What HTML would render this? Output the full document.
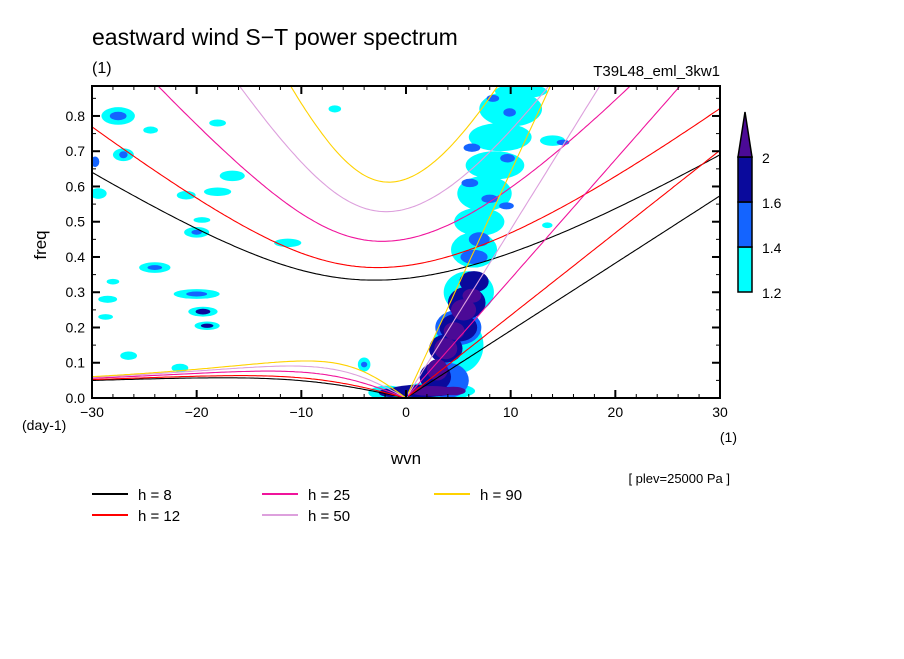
<!DOCTYPE html>
<html><head><meta charset="utf-8"><style>
body{margin:0;background:#fff;}
svg text{font-family:"Liberation Sans",sans-serif;fill:#000;}
</style></head><body>
<svg id="c" width="904" height="654" viewBox="0 0 904 654" xmlns="http://www.w3.org/2000/svg">
<defs><clipPath id="pc"><rect x="92" y="86" width="628" height="312"/></clipPath></defs>
<text x="92" y="45" font-size="23">eastward wind S−T power spectrum</text>
<text x="92" y="73" font-size="16">(1)</text>
<text x="720" y="76" font-size="15" text-anchor="end">T39L48_eml_3kw1</text>
<g id="blobs" clip-path="url(#pc)"></g>
<g id="curves" clip-path="url(#pc)"></g>
<g id="axes"></g>
<text x="46" y="245" font-size="17" text-anchor="middle" transform="rotate(-90 46 245)">freq</text>
<text x="406" y="464" font-size="17" text-anchor="middle">wvn</text>
<text x="22" y="430" font-size="14">(day-1)</text>
<text x="737" y="442" font-size="14" text-anchor="end">(1)</text>
<text x="730" y="483" font-size="13" text-anchor="end">[ plev=25000 Pa ]</text>
<g id="legend"></g>
<g id="cbar"></g>
</svg>
<script>
const NS="http://www.w3.org/2000/svg";
// data
const depths=[8,12,25,50,90];
const depthColors=["#000000","#ff0000","#f0149c","#dda0dd","#ffd200"];
const xTicks=[-30,-20,-10,0,10,20,30];
const yTicks=[0,0.1,0.2,0.3,0.4,0.5,0.6,0.7,0.8];
const cbLevels=[1.2,1.4,1.6,2];
const levelColors=["#00ffff","#1464ff","#0a0a9c","#4b0a96"];
// blobs: wavenumber, frequency, half-width (k), half-height (f), level index
const blobK=[-27.5,-27.5,-27,-27,-29.4,-16.6,-21,-24.4,-18,-20,-20,-18,-19.5,-24,-24,-20,-20,-19.4,-19.4,-19,-19,-26.5,-21.6,-28.5,-28,-28.7,-11.3,-6.8,-4,-4,-29.7,-1.8,-1.5,
 5,6,6.5,7,7.5,8.5,9,10,11,14,13.5,3,
 4,5,6.5,7,
 2.8,3.8,5,5.8,6.5,1.5,
 2.5,4.5,3,3.8,4.6,5.5,6.3,
 6.1,8,9.6,9.7,6.3,9.9,8.3,15];
const blobF=[0.80,0.80,0.69,0.69,0.58,0.63,0.575,0.76,0.78,0.47,0.47,0.585,0.505,0.37,0.37,0.295,0.295,0.245,0.245,0.205,0.205,0.12,0.085,0.28,0.33,0.23,0.44,0.82,0.095,0.095,0.67,0.015,0.015,
 0.15,0.3,0.42,0.5,0.58,0.66,0.74,0.82,0.87,0.73,0.49,0.02,
 0.05,0.2,0.4,0.45,
 0.06,0.14,0.2,0.27,0.33,0.02,
 0.02,0.02,0.08,0.14,0.19,0.25,0.29,
 0.61,0.565,0.545,0.68,0.71,0.81,0.85,0.725];
const blobRK=[1.6,0.8,1.0,0.4,0.8,1.2,0.9,0.7,0.8,1.2,0.5,1.3,0.8,1.5,0.7,2.2,1.0,1.4,0.7,1.2,0.6,0.8,0.8,0.9,0.6,0.7,1.3,0.6,0.6,0.3,0.4,1.8,1.1,
 2.4,2.4,2.2,2.4,2.6,2.8,3,3,2.5,1.2,0.5,3.6,
 2,2.2,1.3,1,
 1.5,1.6,1.8,1.8,1.4,3.2,
 2.2,1.2,1.0,1.1,1.0,1.2,0.9,
 0.8,0.8,0.7,0.7,0.8,0.6,0.6,0.6];
const blobRF=[0.025,0.012,0.018,0.01,0.015,0.015,0.012,0.01,0.01,0.015,0.007,0.012,0.008,0.015,0.007,0.014,0.007,0.014,0.008,0.012,0.006,0.012,0.012,0.01,0.008,0.008,0.012,0.01,0.02,0.008,0.015,0.02,0.012,
 0.08,0.06,0.05,0.04,0.05,0.04,0.04,0.05,0.02,0.015,0.008,0.025,
 0.05,0.05,0.02,0.02,
 0.04,0.04,0.04,0.045,0.03,0.018,
 0.014,0.012,0.03,0.03,0.025,0.03,0.02,
 0.012,0.012,0.01,0.012,0.012,0.012,0.01,0.008];
const blobLvl=[0,1,0,1,0,0,0,0,0,0,1,0,0,0,1,0,1,0,2,0,2,0,0,0,0,0,0,0,0,1,1,0,2,
 0,0,0,0,0,0,0,0,0,0,0,0,
 1,1,1,1,
 2,2,2,2,2,2,
 3,3,3,3,3,3,3,
 1,1,1,1,1,1,1,1];
// axes functions
const X0=92,X1=720,Y0=398,Y1=86,FMAX=0.885;
const xs=k=>X0+(k+30)/60*(X1-X0);
const ys=f=>Y0-f/FMAX*(Y0-Y1);
function mk(tag,attrs,parent){const e=document.createElementNS(NS,tag);for(const a in attrs)e.setAttribute(a,attrs[a]);parent.appendChild(e);return e;}
const bg=document.getElementById('blobs');
for(let L=0;L<4;L++){for(let i=0;i<blobK.length;i++){if(blobLvl[i]!==L)continue;
 const e=mk('ellipse',{cx:xs(blobK[i]),cy:ys(blobF[i]),rx:blobRK[i]*(X1-X0)/60,ry:blobRF[i]/FMAX*(Y0-Y1),fill:levelColors[L]},bg);
 
 }}
// dispersion curves
const g=9.81,beta=2*7.292e-5/6.371e6,A=6.371e6;
const cg=document.getElementById('curves');
function cubicRoot(kn,w0){let w=w0;for(let i=0;i<60;i++){const f=w*w*w-(kn*kn+3)*w-kn;const d=3*w*w-(kn*kn+3);w-=f/d;}return w;}
depths.forEach((h,j)=>{
 const c=Math.sqrt(g*h),L=Math.sqrt(c/beta),T=1/Math.sqrt(c*beta),cpd=86400/(2*Math.PI);
 let ig=[],ro=[],kv=[];
 for(let s=-30;s<=30.001;s+=0.2){const kn=s/A*L;
  ig.push([s,cubicRoot(kn,Math.sqrt(kn*kn+3)+1)/T*cpd]);
  if(s<=0)ro.push([s,cubicRoot(kn,-kn/(kn*kn+3))/T*cpd]);
  if(s>=0)kv.push([s,c*s/A*86400/(2*Math.PI)]);}
 [ig,ro,kv].forEach((pts,m)=>{const p=mk('polyline',{points:pts.map(q=>xs(q[0]).toFixed(1)+','+ys(q[1]).toFixed(1)).join(' '),fill:'none',stroke:depthColors[j],'stroke-width':1.1},cg);
  
  });
});
// axes
const ax=document.getElementById('axes');
const fr=mk('rect',{x:X0,y:Y1,width:X1-X0,height:Y0-Y1,fill:'none',stroke:'#000','stroke-width':2},ax);


for(let k=-30;k<=30;k+=2){const maj=k%10===0,len=maj?8:4;
 mk('line',{x1:xs(k),x2:xs(k),y1:Y0,y2:Y0-len,stroke:'#000','stroke-width':maj?2:1},ax);
 mk('line',{x1:xs(k),x2:xs(k),y1:Y1,y2:Y1+len,stroke:'#000','stroke-width':maj?2:1},ax);}
for(let f=0;f<=0.88;f+=0.05){const maj=Math.round(f*100)%10===0,len=maj?8:4;
 mk('line',{x1:X0,x2:X0+len,y1:ys(f),y2:ys(f),stroke:'#000','stroke-width':maj?2:1},ax);
 mk('line',{x1:X1,x2:X1-len,y1:ys(f),y2:ys(f),stroke:'#000','stroke-width':maj?2:1},ax);}
xTicks.forEach(k=>{const t=mk('text',{x:xs(k),y:417,'font-size':14,'text-anchor':'middle'},ax);t.textContent=String(k).replace('-','−');
 
 });
yTicks.forEach(f=>{const t=mk('text',{x:85,y:ys(f)+5,'font-size':14,'text-anchor':'end'},ax);t.textContent=f.toFixed(1);
 
 });
// legend: positions per depth index (8,12,25,50,90)
const lg=document.getElementById('legend');
const legX=[92,92,262,262,434],legY=[494,515,494,515,494];
depths.forEach((h,j)=>{const x=legX[j],y=legY[j];
 const l=mk('line',{x1:x,x2:x+36,y1:y,y2:y,stroke:depthColors[j],'stroke-width':2},lg);
 
 
 const t=mk('text',{x:x+46,y:y+6,'font-size':15,'xml:space':'preserve'},lg);t.textContent='h = '+(h<10?'  ':'')+h;
 
 });
// colorbar
const cb=document.getElementById('cbar');
const cy=[292,247,202,157];
for(let i=0;i<3;i++){const r=mk('rect',{x:738,y:cy[i+1],width:14,height:cy[i]-cy[i+1],fill:levelColors[i],stroke:'#000','stroke-width':1.5},cb);
 
 }
const tri=mk('polygon',{points:'738,157 752,157 745,112',fill:levelColors[3],stroke:'#000','stroke-width':1.5},cb);


cbLevels.forEach((v,i)=>{const t=mk('text',{x:762,y:cy[i]+6,'font-size':14},cb);t.textContent=String(v);
 
 });
</script>
</body></html>
